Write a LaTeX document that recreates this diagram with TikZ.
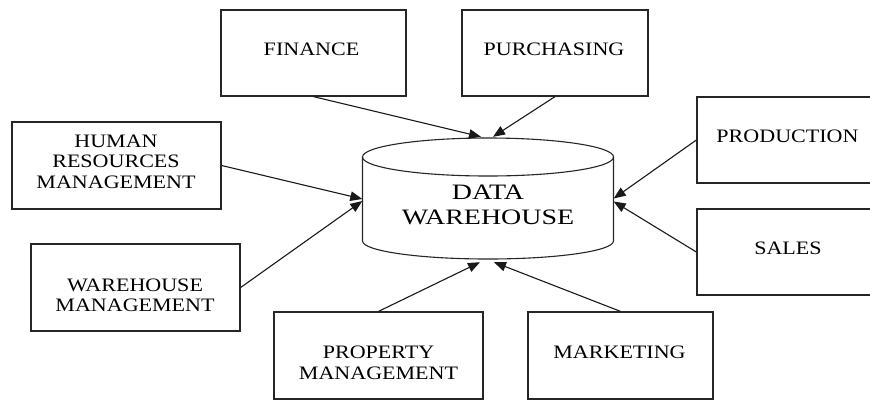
\documentclass[tikz,border=0pt]{standalone}
\usepackage{fontspec}
\setmainfont{Liberation Serif}[FakeStretch=1.16]
\newfontfamily\dwfont{Liberation Serif}[FakeStretch=1.27]
\usetikzlibrary{arrows.meta,calc}
\begin{document}
\begin{tikzpicture}[x=1pt,y=-1pt,
  box/.style={draw=black!85, line width=1.25pt, minimum height=86pt, inner sep=0pt},
  lbl/.style={align=center, font=\fontsize{19}{20.5}\selectfont, inner sep=0pt},
  cyl/.style={draw=black!85, line width=1.1pt},
  conn/.style={draw=black!90, line width=1.1pt, -{Triangle[length=12pt,width=9.5pt]}},
]
\clip (0,0) rectangle (870,400);
\fill[white] (0,0) rectangle (870,400);

% boxes
\node[box, minimum width=185pt] (fin) at (313.5,53) {};
\node[box, minimum width=186pt] (pur) at (555,53) {};
\node[box, minimum width=209pt, minimum height=87pt] (hr) at (116.5,165.5) {};
\node[box, minimum width=209pt, minimum height=87pt] (wm) at (135.5,287.5) {};
\node[box, minimum width=209pt, minimum height=87pt] (prop) at (378.5,355.5) {};
\node[box, minimum width=185pt, minimum height=87pt] (mkt) at (620.5,355.5) {};
\node[box, minimum width=203pt] (prod) at (798.5,140) {};
\node[box, minimum width=203pt] (sales) at (798.5,252) {};

% labels
\node[lbl] (tfin) at (311.5,49) {FINANCE};
\node[lbl] (tpur) at (554,49) {PURCHASING};
\node[lbl] (thr) at (116,161.5) {HUMAN\\RESOURCES\\MANAGEMENT};
\node[lbl] (twm) at (135,295.5) {WAREHOUSE\\MANAGEMENT};
\node[lbl] (tprop) at (378.5,362.7) {PROPERTY\\MANAGEMENT};
\node[lbl] (tmkt) at (619.5,352.7) {MARKETING};
\node[lbl] (tprod) at (787.5,136.3) {PRODUCTION};
\node[lbl] (tsales) at (788,248) {SALES};

% data warehouse cylinder
\node[minimum width=251pt, minimum height=121pt, inner sep=0pt] (dw) at (488,198.5) {};
\draw[cyl] (488,157) ellipse [x radius=125.5pt, y radius=19pt];
\draw[cyl] (362.5,157) -- (362.5,241) arc[start angle=180, end angle=360, x radius=125.5pt, y radius=18pt] -- (613.5,157);
\node[align=center, inner sep=0pt, font=\dwfont\fontsize{22}{25}\selectfont] (dwtext) at (488,204.5) {DATA\\WAREHOUSE};

% connectors
\draw[conn] (fin.south) -- ($(dw.north)+(-7,-1)$);
\draw[conn] (pur.south) -- ($(dw.north)+(5,-1)$);
\draw[conn] (hr.east) -- ($(dw.west)+(0,0.5)$);
\draw[conn] (wm.east) -- ($(dw.west)+(0,2.5)$);
\draw[conn] (prod.west) -- ($(dw.east)+(0,0)$);
\draw[conn] (sales.west) -- ($(dw.east)+(0,3)$);
\draw[conn] (prop.north) -- ($(dw.south)+(-8,3)$);
\draw[conn] (mkt.north) -- ($(dw.south)+(6,3)$);
\end{tikzpicture}
\end{document}
